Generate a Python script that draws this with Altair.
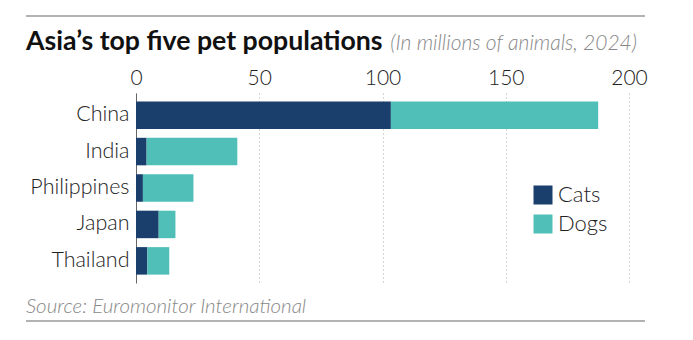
import altair as alt
import pandas as pd

countries = ["China", "India", "Philippines", "Japan", "Thailand"]
cats = [103.4, 4.3, 2.8, 9.2, 4.6]
dogs = [84.1, 36.8, 20.5, 6.8, 8.9]
animals = ["Cats", "Dogs"]
colors = ["#1b3f6c", "#4fbfb8"]
ticks = [0, 50, 100, 150, 200]

title_text = "Asia\u2019s top five pet populations"
subtitle_text = "(In millions of animals, 2024)"
source_text = "Source: Euromonitor International"

rows = []
for c, ca, d in zip(countries, cats, dogs):
    rows.append({"country": c, "animal": "Cats", "value": ca, "ord": 0})
    rows.append({"country": c, "animal": "Dogs", "value": d, "ord": 1})
df = pd.DataFrame(rows)

FONT = "Lato"
W, H = 493, 190
LEFT, TOP = 136, 93

bars = alt.Chart(df).mark_bar().encode(
    y=alt.Y("country:N", sort=countries,
            scale=alt.Scale(paddingInner=0.245, paddingOuter=0.23),
            axis=alt.Axis(title=None, labelFont=FONT, labelFontSize=21.5, labelFontWeight=300,
                          labelColor="#222", ticks=False, domainColor="#666", domainWidth=1,
                          labelPadding=7, grid=False)),
    x=alt.X("value:Q", stack="zero",
            scale=alt.Scale(domain=[0, 200], nice=False),
            axis=alt.Axis(orient="top", values=ticks, title=None, labelFont=FONT,
                          labelFontSize=21, labelFontWeight=300, labelColor="#222",
                          labelFlush=False,
                          grid=True, gridDash=[1, 3], gridColor="#aaa", gridWidth=1,
                          domain=False, ticks=False, labelPadding=5)),
    color=alt.Color("animal:N", scale=alt.Scale(domain=animals, range=colors),
                    legend=alt.Legend(title=None, orient="none", legendX=396, legendY=91,
                                      symbolType="square", symbolSize=361,
                                      symbolStrokeWidth=0, symbolOpacity=1,
                                      labelFont=FONT, labelFontSize=22, labelFontWeight=300,
                                      labelColor="#222", labelOffset=4, rowPadding=7,
                                      padding=0)),
    order=alt.Order("ord:Q"),
)

title = alt.Chart(pd.DataFrame({"t": [title_text]})).mark_text(
    font=FONT, fontSize=26.7, fontWeight="bold", color="#111", align="left", baseline="alphabetic"
).encode(x=alt.value(26 - LEFT), y=alt.value(50 - TOP), text="t:N")

subtitle = alt.Chart(pd.DataFrame({"t": [subtitle_text]})).mark_text(
    font=FONT, fontSize=21, fontStyle="italic", fontWeight=300, color="#888", align="right",
    baseline="alphabetic"
).encode(x=alt.value(637 - LEFT), y=alt.value(50 - TOP), text="t:N")

source = alt.Chart(pd.DataFrame({"t": [source_text]})).mark_text(
    font=FONT, fontSize=20.5, fontStyle="italic", fontWeight=300, color="#888", align="left",
    baseline="alphabetic"
).encode(x=alt.value(26 - LEFT), y=alt.value(313 - TOP), text="t:N")

rule_top = alt.Chart(pd.DataFrame({"a": [0]})).mark_rule(color="#999", strokeWidth=1.5).encode(
    x=alt.value(26 - LEFT), x2=alt.value(645 - LEFT), y=alt.value(16 - TOP))
rule_bot = alt.Chart(pd.DataFrame({"a": [0]})).mark_rule(color="#999", strokeWidth=1.5).encode(
    x=alt.value(26 - LEFT), x2=alt.value(645 - LEFT), y=alt.value(321 - TOP))

chart = alt.layer(bars, title, subtitle, source, rule_top, rule_bot).properties(
    width=W, height=H,
    autosize=alt.AutoSizeParams(type="none"),
    padding={"left": LEFT, "top": TOP, "right": 693 - LEFT - W, "bottom": 340 - TOP - H},
    background="white",
).configure_view(stroke=None)

chart.save("out.html", embed_options={"renderer": "svg", "actions": False})
